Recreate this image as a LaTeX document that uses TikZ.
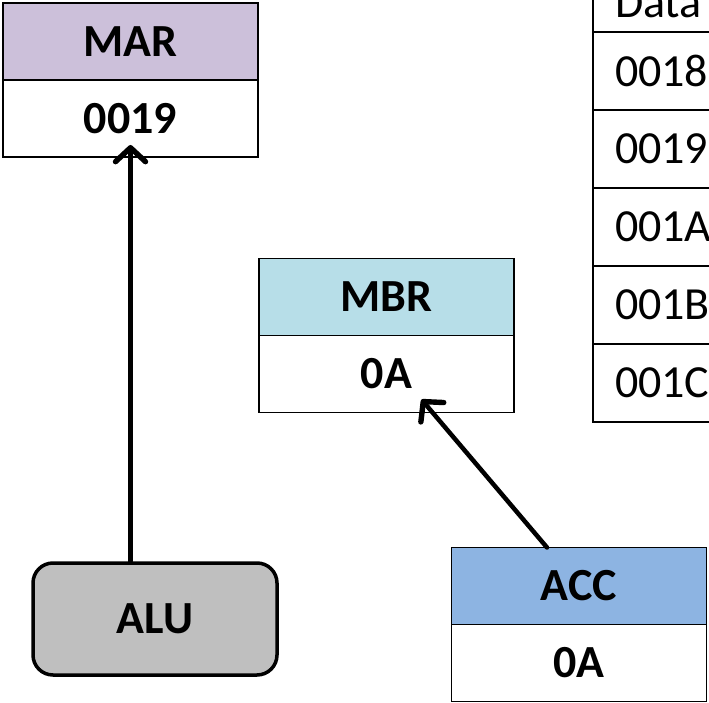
\documentclass[tikz,border=0pt]{standalone}
\usepackage{fontspec}
\setmainfont{Carlito}
\usetikzlibrary{positioning,arrows.meta}

\definecolor{colmar}{RGB}{204,192,218}
\definecolor{colmbr}{RGB}{183,222,232}
\definecolor{colacc}{RGB}{141,180,226}
\definecolor{colalu}{RGB}{191,191,191}

\newcommand{\letra}{\fontsize{46}{50}\selectfont}

\tikzset{
  reg/.style={draw, line width=1.5pt, minimum width=255pt, minimum height=77pt,
    inner sep=0pt, outer sep=0pt, font=\letra\bfseries},
  celda/.style={draw, line width=1.5pt, minimum height=78pt, text width=180pt,
    align=left, inner xsep=22pt, inner ysep=0pt, outer sep=0pt, anchor=north west,
    font=\letra},
  flecha/.style={line width=4.5pt, line cap=round,
    -{Straight Barb[length=14pt,width=30pt,line width=0pt 1.2,round]}},
}

\begin{document}
\begin{tikzpicture}[x=1pt, y=-1pt]
        \useasboundingbox (0,0) rectangle (709,703);
        \clip (0,0) rectangle (709,703);

        % Registros MAR, MBR y ACC
        \node[reg, fill=colmar] (marhead) at (130.5,41.5) {MAR};
        \node[reg, fill=white, below=0pt of marhead] (marval) {0019};
        \node[reg, fill=colmbr] (mbrhead) at (386.5,297) {MBR};
        \node[reg, fill=white, below=0pt of mbrhead] (mbrval) {0A};
        \node[reg, fill=colacc] (acchead) at (579,586) {ACC};
        \node[reg, fill=white, below=0pt of acchead] (accval) {0A};

        % ALU
        \node[draw, line width=3.5pt, rounded corners=20pt, fill=colalu,
          minimum width=244pt, minimum height=112pt, font=\letra\bfseries] (alu) at (155,619) {ALU};

        % Memoria (cortada a la derecha)
        \node[celda, text height=50pt, text depth=0pt] (dato) at (593,-46) {Data};
        \foreach \dir [count=\i] in {0018,0019,001A,001B,001C}
          \node[celda] (dir\i) at (593,{32+78*(\i-1)}) {\dir};

        % Flechas
        \draw[flecha] (marval.south |- alu.north) -- ([yshift=12pt]marval.south);
        \draw[flecha] ([xshift=-32pt]acchead.north) -- ([xshift=35pt,yshift=13pt]mbrval.south);
\end{tikzpicture}
\end{document}
